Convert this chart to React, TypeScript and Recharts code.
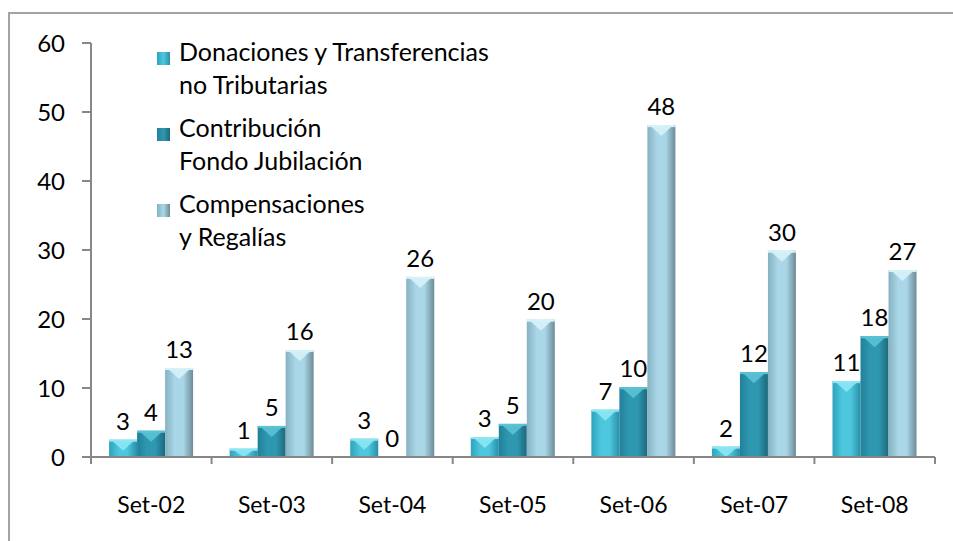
import { BarChart, Bar, XAxis, YAxis, Legend, LabelList } from "recharts";

// Ingresos por mes de setiembre, 2002-2008
const periods = ["Set-02", "Set-03", "Set-04", "Set-05", "Set-06", "Set-07", "Set-08"];
const donaciones = [2.5, 1.2, 2.65, 2.9, 6.85, 1.5, 11.0];
const contribucion = [3.8, 4.5, 0, 4.8, 10.1, 12.3, 17.5];
const compensaciones = [12.9, 15.5, 26.1, 19.9, 48.1, 29.9, 27.1];
const yTicks = [0, 10, 20, 30, 40, 50, 60];

const data = periods.map((p, i) => ({
  p,
  don: donaciones[i],
  con: contribucion[i],
  com: compensaciones[i],
}));

const FONT = "Lato, 'Liberation Sans', sans-serif";
const AXIS = "#878787";

const series = [
  { key: "don", lines: ["Donaciones y Transferencias", "no Tributarias"], left: "#2ea3bc", mid: "#4dc7de", right: "#2890a8", cap: "#8de6f4" },
  { key: "con", lines: ["Contribución", "Fondo Jubilación"], left: "#22809a", mid: "#2f98b1", right: "#1d687c", cap: "#5cc2d6" },
  { key: "com", lines: ["Compensaciones", "y Regalías"], left: "#86b1c1", mid: "#a9d7e7", right: "#6d8b97", cap: "#d6f2f9" },
];

const makeShape = (i: number) => (props: any) => {
  const { x, y, width, height } = props;
  if (!height || height <= 0) return <g />;
  const cap = Math.min(11, height);
  return (
    <g>
      <rect x={x} y={y} width={width} height={height} fill={`url(#body${i})`} />
      <polygon
        points={`${x + 2},${y} ${x + width - 2},${y} ${x + width / 2},${y + cap}`}
        fill={series[i].cap}
        opacity={0.9}
      />
      <rect x={x} y={y} width={width} height={Math.min(2, height)} fill={series[i].cap} />
    </g>
  );
};

const TICK_SIZE = 7;
const X_MARGIN = 33;
const BAND = (935 - 91) / periods.length;

const XTick = (props: any) => {
  const { x, y, payload, index } = props;
  const top = y - X_MARGIN - TICK_SIZE;
  const bottom = y - X_MARGIN;
  return (
    <g>
      <line x1={x - BAND / 2} x2={x - BAND / 2} y1={top} y2={bottom} stroke={AXIS} strokeWidth={2} />
      {index === periods.length - 1 && (
        <line x1={x + BAND / 2} x2={x + BAND / 2} y1={top} y2={bottom} stroke={AXIS} strokeWidth={2} />
      )}
      <text x={x} y={y} dy="0.71em" textAnchor="middle" fill="#000" fontSize={23} fontFamily={FONT}>
        {payload.value}
      </text>
    </g>
  );
};

const LegendBox = () => (
  <div style={{ fontFamily: FONT, fontSize: 25, lineHeight: "33px", color: "#000" }}>
    {series.map((s, i) => (
      <div key={s.key} style={{ position: "relative", paddingLeft: 22, marginBottom: 10 }}>
        <div
          style={{
            position: "absolute",
            left: 0,
            top: 17,
            width: 13,
            height: 13,
            background: `linear-gradient(90deg, ${s.left}, ${s.mid}, ${s.right})`,
          }}
        />
        {s.lines.map((l) => (
          <div key={l} style={{ whiteSpace: "nowrap" }}>{l}</div>
        ))}
      </div>
    ))}
  </div>
);

export default function App() {
  return (
    <div style={{ position: "absolute", left: 0, top: 0, width: 953, height: 541, background: "#fff" }}>
      <div
        style={{
          position: "absolute",
          left: 8,
          top: 12,
          width: 945,
          height: 529,
          boxSizing: "border-box",
          borderTop: "2px solid #a3a3a3",
          borderLeft: "2px solid #a3a3a3",
        }}
      />
      <BarChart
        width={953}
        height={541}
        data={data}
        margin={{ top: 43, right: 18, bottom: 24, left: 0 }}
        barCategoryGap="15%"
        barGap={0}
        style={{ position: "absolute", left: 0, top: 0, fontFamily: FONT }}
      >
        <defs>
          {series.map((s, i) => (
            <linearGradient key={s.key} id={`body${i}`} x1="0" y1="0" x2="1" y2="0">
              <stop offset="0%" stopColor={s.left} />
              <stop offset="35%" stopColor={s.mid} />
              <stop offset="65%" stopColor={s.mid} />
              <stop offset="100%" stopColor={s.right} />
            </linearGradient>
          ))}
        </defs>
        <XAxis
          dataKey="p"
          height={60}
          axisLine={{ stroke: AXIS, strokeWidth: 2 }}
          tickLine={false}
          tickSize={TICK_SIZE}
          tickMargin={X_MARGIN}
          tick={<XTick />}
          interval={0}
        />
        <YAxis
          width={91}
          domain={[0, 60]}
          ticks={yTicks}
          interval={0}
          axisLine={{ stroke: AXIS, strokeWidth: 2 }}
          tickLine={{ stroke: AXIS, strokeWidth: 2 }}
          tickSize={9}
          tickMargin={17}
          tick={{ fill: "#000", fontSize: 24, fontFamily: FONT }}
        />
        <Legend
          layout="vertical"
          align="center"
          verticalAlign="middle"
          content={() => <LegendBox />}
          wrapperStyle={{ left: 157, top: 35, width: 380, height: 240 }}
        />
        {series.map((s, i) => (
          <Bar key={s.key} dataKey={s.key} isAnimationActive={false} shape={makeShape(i)} fill={s.mid}>
            <LabelList
              dataKey={s.key}
              position="top"
              offset={10}
              formatter={(v: any) => Math.round(Number(v))}
              fill="#000"
              fontSize={24}
              fontFamily={FONT}
            />
          </Bar>
        ))}
      </BarChart>
    </div>
  );
}
